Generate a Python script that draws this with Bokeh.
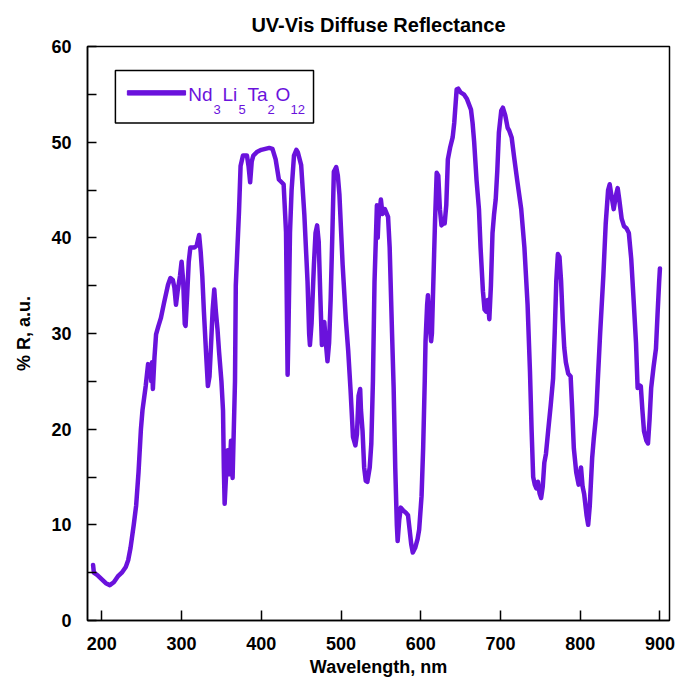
from bokeh.plotting import figure
from bokeh.models import FixedTicker, BoxAnnotation, Label, Range1d
from bokeh.embed import file_html
from bokeh.resources import INLINE

# ---- data ----
wavelength = [189, 190, 195, 200, 205, 210, 215, 220, 225, 230, 233, 236, 240, 243, 246, 249, 251,
              255, 258, 261, 262, 263, 264, 266, 268, 271, 274, 278, 283, 286, 289, 291, 293, 295,
              298, 300, 302, 304, 305, 307, 309, 311, 316, 319, 322, 324, 326, 328, 331, 333, 335,
              337, 339, 341, 343, 345, 347, 350, 352, 353, 354, 356, 358, 360, 362, 363, 364, 367,
              368, 372, 374, 377, 382, 384, 386, 388, 390, 395, 400, 405, 410, 414, 418, 422, 428,
              431, 433, 434, 436, 438, 441, 444, 446, 450, 454, 458, 460, 461, 463, 466, 468, 470,
              472, 474, 476, 478, 479, 481, 483, 485, 487, 489, 491, 494, 496, 498, 502, 506, 509,
              512, 515, 518, 520, 522, 524, 525, 527, 529, 531, 533, 536, 538, 540, 542, 545, 546,
              547, 549, 550, 552, 555, 559, 561, 564, 566, 568, 570, 571, 573, 575, 578, 581, 584,
              586, 588, 590, 593, 596, 598, 601, 603, 605, 606, 608, 609, 611, 613, 614, 616, 618,
              620, 622, 624, 626, 628, 630, 632, 634, 637, 640, 642, 645, 647, 650, 654, 658, 663,
              665, 667, 670, 673, 675, 678, 680, 682, 684, 686, 688, 690, 692, 694, 696, 698, 701,
              703, 706, 709, 711, 714, 717, 721, 726, 730, 734, 737, 739, 741, 743, 745, 747, 749,
              751, 753, 755, 757, 760, 763, 766, 768, 770, 772, 774, 776, 778, 780, 782, 785, 788,
              790, 792, 795, 798, 800, 801, 803, 805, 808, 810, 812, 815, 817, 820, 822, 825, 829,
              832, 835, 837, 839, 842, 845, 847, 849, 852, 855, 858, 861, 864, 867, 870, 872, 874,
              876, 878, 880, 883, 885, 887, 889, 892, 895, 897, 899, 900]
reflectance = [5.8, 5.0, 4.7, 4.3, 3.9, 3.7, 4.0, 4.6, 5.0, 5.6, 6.3, 7.6, 10.0, 12.0, 15.5, 20.0, 22.0,
               24.5, 26.8, 26.4, 25.0, 27.0, 24.2, 27.5, 29.9, 30.8, 31.6, 33.2, 35.1, 35.8, 35.6, 34.8, 33.0, 34.4,
               36.0, 37.5, 35.5, 31.0, 30.8, 34.0, 37.5, 39.0, 39.0, 39.2, 40.3, 38.5, 36.0, 32.3, 27.5, 24.5, 25.5,
               28.9, 32.5, 34.6, 32.3, 30.5, 28.1, 25.0, 21.9, 16.0, 12.2, 15.5, 17.8, 15.3, 18.8, 18.2, 14.9, 25.0,
               35.0, 42.7, 47.5, 48.6, 48.6, 47.5, 45.8, 48.0, 48.6, 49.0, 49.2, 49.3, 49.4, 49.3, 48.2, 46.1, 45.6,
               40.6, 25.7, 30.0, 40.6, 45.0, 48.6, 49.2, 48.9, 47.6, 42.4, 35.4, 30.0, 28.8, 31.0, 37.2, 40.5, 41.3,
               39.6, 34.0, 28.8, 30.5, 31.2, 29.0, 27.1, 29.0, 33.6, 40.0, 46.9, 47.4, 46.5, 44.5, 37.2, 31.5, 28.2,
               24.0, 19.2, 18.3, 19.5, 23.5, 24.2, 22.0, 19.8, 16.0, 14.6, 14.5, 16.0, 18.5, 25.0, 35.4, 43.4, 40.0,
               42.0, 43.2, 44.0, 42.5, 43.0, 42.2, 39.0, 30.0, 24.3, 16.0, 10.0, 8.3, 10.5, 11.8, 11.5, 11.3, 11.0,
               9.5, 8.0, 7.1, 7.6, 8.5, 9.5, 13.0, 18.0, 25.0, 29.2, 33.0, 34.0, 31.0, 29.2, 30.0, 36.0, 42.0,
               46.8, 46.5, 43.0, 41.3, 41.5, 41.5, 43.4, 48.2, 49.5, 50.5, 52.0, 55.5, 55.6, 55.2, 55.0, 54.5, 53.4,
               52.0, 50.0, 46.0, 43.0, 39.0, 34.4, 32.5, 32.3, 33.5, 31.5, 35.0, 40.5, 42.5, 44.0, 47.0, 51.0, 53.3,
               53.6, 52.8, 51.5, 51.2, 50.5, 48.5, 46.0, 43.0, 39.0, 33.0, 26.0, 20.0, 15.0, 14.2, 13.8, 14.5, 13.3,
               12.8, 14.0, 16.5, 17.4, 20.0, 22.5, 25.3, 30.0, 35.5, 38.3, 38.0, 35.5, 31.5, 28.5, 27.0, 25.8, 25.5,
               22.0, 18.0, 15.5, 14.2, 15.5, 16.0, 14.0, 13.2, 11.0, 10.0, 12.0, 17.0, 19.0, 21.5, 25.0, 30.0, 36.0,
               41.5, 45.0, 45.6, 44.5, 43.0, 44.5, 45.2, 44.0, 42.0, 41.2, 41.0, 40.5, 37.8, 33.5, 29.0, 24.3, 24.6,
               24.5, 22.0, 19.8, 18.8, 18.5, 21.0, 24.3, 26.5, 28.4, 32.0, 35.4, 36.8]

x_ticks = [200, 300, 400, 500, 600, 700, 800, 900]
y_ticks = [0, 10, 20, 30, 40, 50, 60]
y_minor_ticks = [5, 15, 25, 35, 45, 55]

title_text = "UV-Vis Diffuse Reflectance"
x_label = "Wavelength, nm"
y_label = "% R, a.u."
legend_parts = ["Nd", "Li", "Ta", "O"]
legend_subs = ["3", "5", "2", "12"]

COLOR = "#6a12dc"
FONT = "Liberation Sans"

p = figure(width=677, height=680, output_backend="svg", toolbar_location=None,
           x_range=Range1d(182, 912), y_range=Range1d(0, 60),
           min_border_left=87, min_border_right=8, min_border_top=46, min_border_bottom=60)

p.title.text = title_text
p.title.align = "center"
p.title.text_font = FONT
p.title.text_font_size = "20px"
p.title.text_font_style = "bold"
p.title.text_color = "black"
p.title.offset = 0
p.title.standoff = 21

p.line(wavelength, reflectance, line_color=COLOR, line_width=4.5, line_join="round", line_cap="round")

p.grid.visible = False
p.outline_line_color = "black"
p.outline_line_width = 1.5
p.background_fill_color = "white"
p.border_fill_color = "white"

xa = p.xaxis[0]
xa.ticker = FixedTicker(ticks=x_ticks)
xa.major_tick_in = 10
xa.major_tick_out = 0
xa.minor_tick_in = 0
xa.minor_tick_out = 0
xa.major_tick_line_width = 1.5
xa.axis_line_width = 1.5
xa.major_label_text_font = FONT
xa.major_label_text_font_size = "18px"
xa.major_label_text_font_style = "bold"
xa.major_label_text_color = "black"
xa.major_label_standoff = 16
xa.axis_label = x_label
xa.axis_label_text_font = FONT
xa.axis_label_text_font_size = "18px"
xa.axis_label_text_font_style = "bold"
xa.axis_label_text_color = "black"
xa.axis_label_standoff = 4

ya = p.yaxis[0]
ya.ticker = FixedTicker(ticks=y_ticks, minor_ticks=y_minor_ticks)
ya.major_tick_in = 9
ya.major_tick_out = 0
ya.minor_tick_in = 9
ya.minor_tick_out = 0
ya.major_tick_line_width = 1.5
ya.minor_tick_line_width = 1.5
ya.minor_tick_line_color = "black"
ya.axis_line_width = 1.5
ya.major_label_text_font = FONT
ya.major_label_text_font_size = "18px"
ya.major_label_text_font_style = "bold"
ya.major_label_text_color = "black"
ya.major_label_standoff = 16
ya.axis_label = y_label
ya.axis_label_text_font = FONT
ya.axis_label_text_font_size = "18px"
ya.axis_label_text_font_style = "bold"
ya.axis_label_text_color = "black"
ya.axis_label_standoff = 14

# ---- legend (manual, so the formula can have subscripts) ----
LEG_BOX = dict(left=217.0, right=465.5, top=57.5, bottom=52.0)
p.add_layout(BoxAnnotation(left=LEG_BOX["left"], right=LEG_BOX["right"], top=LEG_BOX["top"],
                           bottom=LEG_BOX["bottom"], fill_color="white", fill_alpha=1.0,
                           line_color="black", line_alpha=1.0, line_width=1.5, level="overlay"))
p.add_layout(BoxAnnotation(left=232.0, right=305.0, top=55.38, bottom=54.92,
                           fill_color=COLOR, fill_alpha=1.0, line_color=COLOR, line_alpha=1.0,
                           line_width=1, level="overlay"))
main_x = [308.5, 351.3, 382.7, 417.8]
sub_x = [340.0, 371.4, 407.8, 436.6]
for txt, xx in zip(legend_parts, main_x):
    p.add_layout(Label(x=xx, y=55.0, text=txt, text_font=FONT, text_font_size="19px",
                       text_color=COLOR, text_baseline="alphabetic", level="overlay"))
for txt, xx in zip(legend_subs, sub_x):
    p.add_layout(Label(x=xx, y=53.4, text=txt, text_font=FONT, text_font_size="13px",
                       text_color=COLOR, text_baseline="alphabetic", level="overlay"))

open("out.html", "w").write(file_html(p, INLINE))
